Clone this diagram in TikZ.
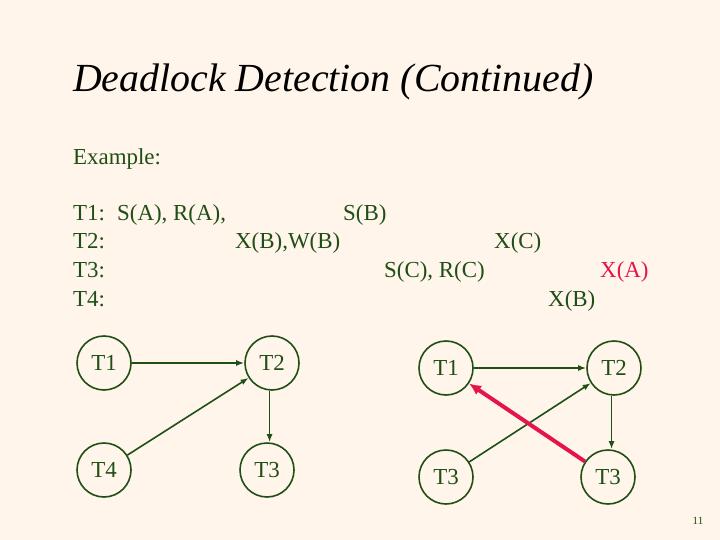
\documentclass[tikz,border=0pt]{standalone}
\usepackage{fontspec}
\setmainfont{Liberation Serif}
\usepackage{xcolor}
\usetikzlibrary{arrows.meta,positioning}
\definecolor{slidecream}{HTML}{FFF5EA}
\definecolor{slidegreen}{HTML}{1F4F16}
\definecolor{slidered}{HTML}{E3154B}
\tikzset{
  bodytext/.style={anchor=base west,inner sep=0pt,text=slidegreen,font=\fontsize{23}{26}\selectfont},
  txnode/.style={circle,draw=slidegreen,line width=1.6pt,minimum size=54bp,inner sep=0pt,text=slidegreen,font=\fontsize{23}{26}\selectfont},
  waitedge/.style={-{Latex[length=8pt,width=6pt]},slidegreen,line width=1.6pt},
  cycleedge/.style={-{Latex[length=12pt,width=11pt]},slidered,line width=4pt}
}

\begin{document}
\begin{tikzpicture}[x=1bp,y=-1bp]
\fill[slidecream] (0,0) rectangle (720,540);
\useasboundingbox (0,0) rectangle (720,540);
% title and schedule
\node[anchor=base west,inner sep=0pt,font=\fontsize{40}{44}\selectfont\itshape] (title) at (73,92) {Deadlock Detection (Continued)};
\node[bodytext] (ex) at (73,165) {Example:};
\node[bodytext] (l1) at (73,221) {T1:};
\node[bodytext] (l2) at (73,249) {T2:};
\node[bodytext] (l3) at (73,278) {T3:};
\node[bodytext] (l4) at (73,306) {T4:};
\node[bodytext] (sa) at (117,221) {S(A), R(A),};
\node[bodytext] (sb) at (343,221) {S(B)};
\node[bodytext] (xb) at (235,249) {X(B),W(B)};
\node[bodytext] (xc) at (494,249) {X(C)};
\node[bodytext] (sc) at (384,278) {S(C), R(C)};
\node[bodytext,text=slidered] (xa) at (600,278) {X(A)};
\node[bodytext] (xb4) at (548,306) {X(B)};
% waits-for graph, left
\node[txnode] (lt1) at (104,363) {T1};
\node[txnode] (lt2) at (272,363) {T2};
\node[txnode] (lt4) at (104,470) {T4};
\node[txnode] (lt3) at (267,470) {T3};
\draw[waitedge] (lt1) -- (lt2);
\draw[waitedge] (lt4) -- (lt2);
\draw[waitedge] (lt2.265) -- (lt2.265 |- lt3.north);
% waits-for graph, right
\node[txnode] (rt1) at (446,368) {T1};
\node[txnode] (rt2) at (614,368) {T2};
\node[txnode] (rt3a) at (446,477) {T3};
\node[txnode] (rt3b) at (608,477) {T3};
\draw[waitedge] (rt1) -- (rt2);
\draw[waitedge] (rt3a) -- (rt2);
\draw[waitedge] (rt2.265) -- (rt2.265 |- rt3b.north);
\draw[cycleedge] (rt3b) -- (rt1);
\node[inner sep=0pt,text=slidegreen,font=\fontsize{11}{13}\selectfont] (pg) at (698,521) {11};
\end{tikzpicture}
\end{document}
